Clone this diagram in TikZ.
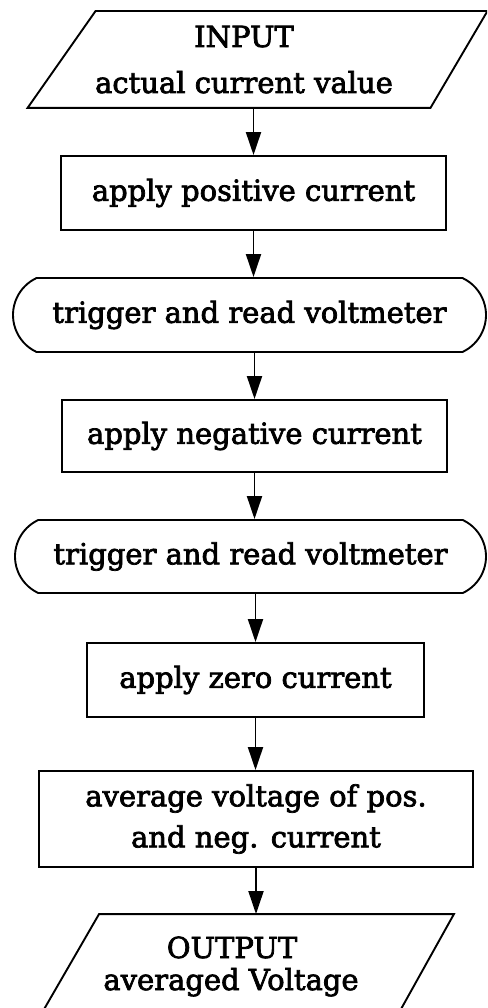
\documentclass[tikz,border=0pt]{standalone}
\usepackage{fontspec}
\setmainfont{DejaVu Serif}[FakeBold=2.5]
\usetikzlibrary{arrows.meta,shapes.misc}
\begin{document}
\begin{tikzpicture}[x=1pt,y=-1pt,
  every node/.style={font=\fontsize{29}{41}\selectfont},
  proc/.style={draw, line width=1.9pt, rectangle, inner sep=0pt, align=center},
  term/.style={draw, line width=1.9pt, rounded rectangle, rounded rectangle arc length=130, inner sep=0pt},
  iobox/.style={rectangle, inner sep=0pt, outer sep=0.95pt},
  frame/.style={line width=1.9pt, line join=miter},
  arr/.style={line width=1.9pt, -{Triangle[length=23pt,width=15pt]}},
  lbl/.style={anchor=base, inner sep=0pt}
]
\useasboundingbox (0,0) rectangle (487,1008);
\clip (0,0) rectangle (487,1008);

% input
\node[iobox, minimum width=458pt, minimum height=95pt] (in) at (257.5,59.5) {};
\draw[frame] ([xshift=68pt]in.north west) -- (in.north east) -- ([xshift=-57pt]in.south east) -- (in.south west) -- cycle;
\node[lbl] (inA) at (244,47) {INPUT};
\node[lbl] (inB) at (244,93) {actual current value};

\node[proc, minimum width=385pt, minimum height=74pt] (b1) at (253.5,193) {apply positive current};
\node[term, minimum width=473pt, minimum height=74pt] (t1) at (249.5,315) {trigger and read voltmeter};
\node[proc, minimum width=385pt, minimum height=72pt] (b2) at (254.5,436) {apply negative current};
\node[term, minimum width=471pt, minimum height=73pt] (t2) at (250.5,556.5) {trigger and read voltmeter};
\node[proc, minimum width=337pt, minimum height=74pt] (b3) at (255.5,680) {apply zero current};
\node[proc, minimum width=434pt, minimum height=96pt] (b4) at (256,819) {average voltage of pos.\\[0pt]and neg. current};

% output
\node[iobox, minimum width=409pt, minimum height=95pt] (out) at (248.5,962.5) {};
\draw[frame] ([xshift=56pt]out.north west) -- (out.north east) -- ([xshift=-54pt]out.south east) -- (out.south west) -- cycle;
\node[lbl] (outA) at (232,958) {OUTPUT};
\node[lbl] (outB) at (231,990) {averaged Voltage};

% connectors
\draw[arr] (in.south -| b1.north) -- (b1.north);
\draw[arr] (b1.south) -- (b1.south |- t1.north);
\draw[arr] (t1.south -| b2.north) -- (b2.north);
\draw[arr] (b2.south) -- (b2.south |- t2.north);
\draw[arr] (t2.south -| b3.north) -- (b3.north);
\draw[arr] (b3.south) -- (b3.south |- b4.north);
\draw[arr] (b4.south) -- (b4.south |- out.north);
\end{tikzpicture}
\end{document}
